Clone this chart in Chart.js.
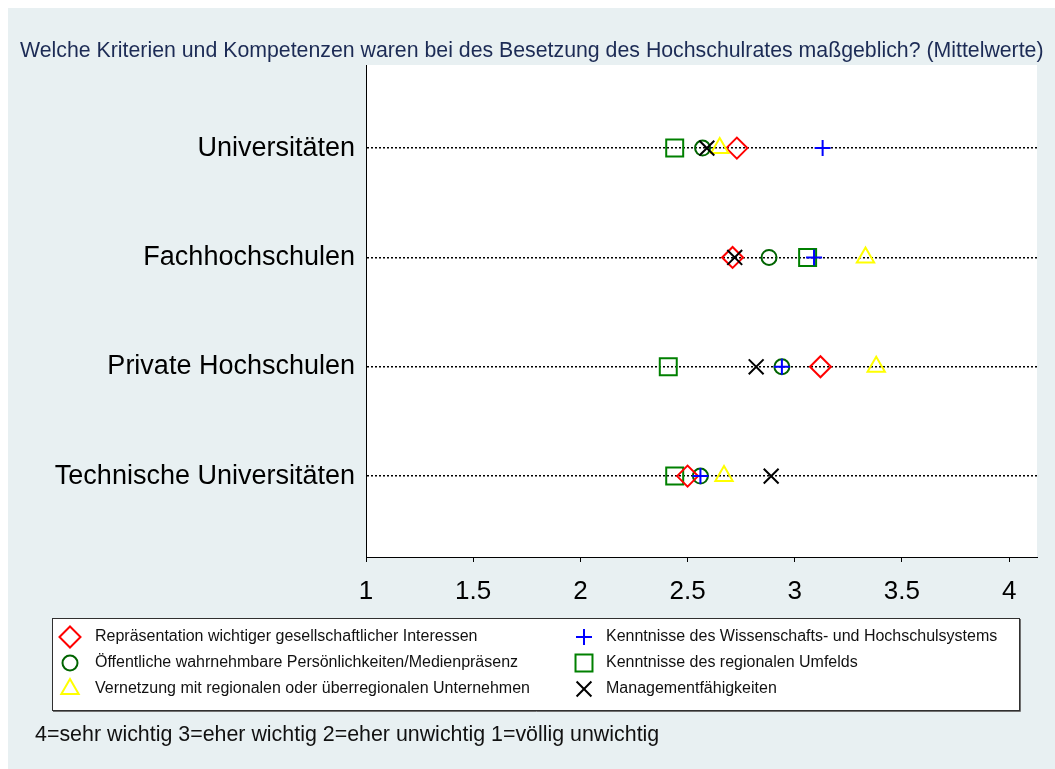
<!DOCTYPE html>
<html>
<head>
<meta charset="utf-8">
<script src="https://cdn.jsdelivr.net/npm/chart.js@4.4.0/dist/chart.umd.min.js"></script>
<style>
  html, body { margin: 0; padding: 0; background: #fff; }
  #wrap { width: 1055px; height: 769px; position: relative; }
</style>
</head>
<body>
<div id="wrap"><canvas id="chart" width="1055" height="769"></canvas></div>
<script>
// --- DATA ---
const categories = ['Universitäten', 'Fachhochschulen', 'Private Hochschulen', 'Technische Universitäten'];
const xTicks = [1, 1.5, 2, 2.5, 3, 3.5, 4];

const repraesentation = [2.73, 2.71, 3.12, 2.50];
const oeffentlich     = [2.57, 2.88, 2.94, 2.56];
const vernetzung      = [2.65, 3.33, 3.38, 2.67];
const kenntnisseWiss  = [3.13, 3.09, 2.94, 2.56];
const kenntnisseReg   = [2.44, 3.06, 2.41, 2.44];
const management      = [2.59, 2.72, 2.82, 2.89];

const seriesLabels = [
    'Repräsentation wichtiger gesellschaftlicher Interessen',
    'Öffentliche wahrnehmbare Persönlichkeiten/Medienpräsenz',
    'Vernetzung mit regionalen oder überregionalen Unternehmen',
    'Kenntnisse des Wissenschafts- und Hochschulsystems',
    'Kenntnisse des regionalen Umfelds',
    'Managementfähigkeiten'
];

const titleText = 'Welche Kriterien und Kompetenzen waren bei des Besetzung des Hochschulrates maßgeblich? (Mittelwerte)';
const noteText = '4=sehr wichtig 3=eher wichtig 2=eher unwichtig 1=völlig unwichtig';

const FONT = "'Liberation Sans', Arial, sans-serif";

function toPoints(values) {
    return values.map((v, i) => ({ x: v, y: i + 1 }));
}

function makeSet(label, values, style, radius, color, order) {
    return {
        label: label,
        data: toPoints(values),
        pointStyle: style,
        pointRadius: radius,
        pointBorderWidth: 2,
        pointBorderColor: color,
        pointBackgroundColor: 'rgba(0,0,0,0)',
        borderColor: color,
        backgroundColor: 'rgba(0,0,0,0)',
        showLine: false,
        order: order
    };
}

const datasets = [
    makeSet(seriesLabels[0], repraesentation, 'rectRot', 10.5, '#ff0000', 4),
    makeSet(seriesLabels[1], oeffentlich, 'circle', 7.5, '#006400', 5),
    makeSet(seriesLabels[2], vernetzung, 'triangle', 10, '#ffff00', 3),
    makeSet(seriesLabels[3], kenntnisseWiss, 'cross', 8, '#0000ff', 1),
    makeSet(seriesLabels[4], kenntnisseReg, 'rect', 12, '#008000', 6),
    makeSet(seriesLabels[5], management, 'crossRot', 10.5, '#000000', 2)
];

// --- PLUGINS ---
const backdrop = {
    id: 'backdrop',
    beforeDraw(chart) {
        const ctx = chart.ctx;
        const a = chart.chartArea;
        ctx.save();
        ctx.fillStyle = '#ffffff';
        ctx.fillRect(0, 0, chart.width, chart.height);
        ctx.fillStyle = '#e8f0f2';
        ctx.fillRect(8, 8, chart.width - 8, chart.height - 8);
        ctx.fillStyle = '#ffffff';
        ctx.fillRect(a.left, a.top, a.right - a.left, a.bottom - a.top);
        ctx.restore();
    }
};

const extras = {
    id: 'extras',
    afterDraw(chart) {
        const ctx = chart.ctx;
        ctx.save();
        ctx.textBaseline = 'middle';
        ctx.textAlign = 'left';

        // title
        ctx.fillStyle = '#1c2b55';
        ctx.font = '21.3px ' + FONT;
        ctx.fillText(titleText, 20, 51);

        // legend box
        const bx = 52, by = 618, bw = 967, bh = 92;
        ctx.fillStyle = '#ffffff';
        ctx.fillRect(bx, by, bw, bh);
        ctx.strokeStyle = '#303030';
        ctx.lineWidth = 1;
        ctx.strokeRect(bx + 0.5, by + 0.5, bw, bh);
        ctx.strokeStyle = '#707070';
        ctx.beginPath();
        ctx.moveTo(bx + 1, by + bh + 1.5);
        ctx.lineTo(bx + bw + 1.5, by + bh + 1.5);
        ctx.lineTo(bx + bw + 1.5, by + 1);
        ctx.stroke();

        const rows = [637, 663, 689];
        const cols = [{ mx: 70, tx: 95 }, { mx: 584, tx: 606 }];
        ctx.font = '16px ' + FONT;
        datasets.forEach((ds, i) => {
            const col = cols[Math.floor(i / 3)];
            const y = rows[i % 3];
            ctx.strokeStyle = ds.pointBorderColor;
            ctx.fillStyle = 'rgba(0,0,0,0)';
            ctx.lineWidth = 2;
            Chart.helpers.drawPoint(ctx, {
                pointStyle: ds.pointStyle,
                radius: ds.pointRadius,
                rotation: 0,
                borderWidth: 2
            }, col.mx, y);
            ctx.fillStyle = '#111111';
            ctx.fillText(ds.label, col.tx, y);
        });

        // note
        ctx.fillStyle = '#111111';
        ctx.font = '21.4px ' + FONT;
        ctx.fillText(noteText, 35, 735);
        ctx.restore();
    }
};

// --- CHART ---
new Chart(document.getElementById('chart'), {
    type: 'scatter',
    data: { datasets: datasets },
    plugins: [backdrop, extras],
    options: {
        responsive: false,
        animation: false,
        events: [],
        layout: { padding: { top: 65, right: 18, left: 0, bottom: 0 } },
        plugins: {
            legend: { display: false },
            tooltip: { enabled: false },
            title: { display: false }
        },
        scales: {
            x: {
                type: 'linear',
                min: 1,
                max: 4.13,
                afterBuildTicks: (scale) => { scale.ticks = xTicks.map(v => ({ value: v })); },
                afterFit: (scale) => { scale.height = 212; },
                border: { display: true, color: '#000000', width: 1 },
                grid: { drawOnChartArea: false, drawTicks: true, tickLength: 5, color: '#000000' },
                ticks: {
                    color: '#000000',
                    padding: 14,
                    maxRotation: 0,
                    font: { family: FONT, size: 26 },
                    callback: (v) => String(v)
                }
            },
            y: {
                type: 'linear',
                reverse: true,
                min: 0.24,
                max: 4.74,
                afterBuildTicks: (scale) => { scale.ticks = categories.map((c, i) => ({ value: i + 1 })); },
                afterFit: (scale) => { scale.width = 366; },
                border: { display: true, color: '#000000', width: 1, dash: [2, 2] },
                grid: { drawOnChartArea: true, drawTicks: false, color: '#000000', lineWidth: 1.5 },
                ticks: {
                    color: '#000000',
                    padding: 11,
                    font: { family: FONT, size: 27 },
                    callback: (v) => categories[v - 1]
                }
            }
        }
    }
});
</script>
</body>
</html>
